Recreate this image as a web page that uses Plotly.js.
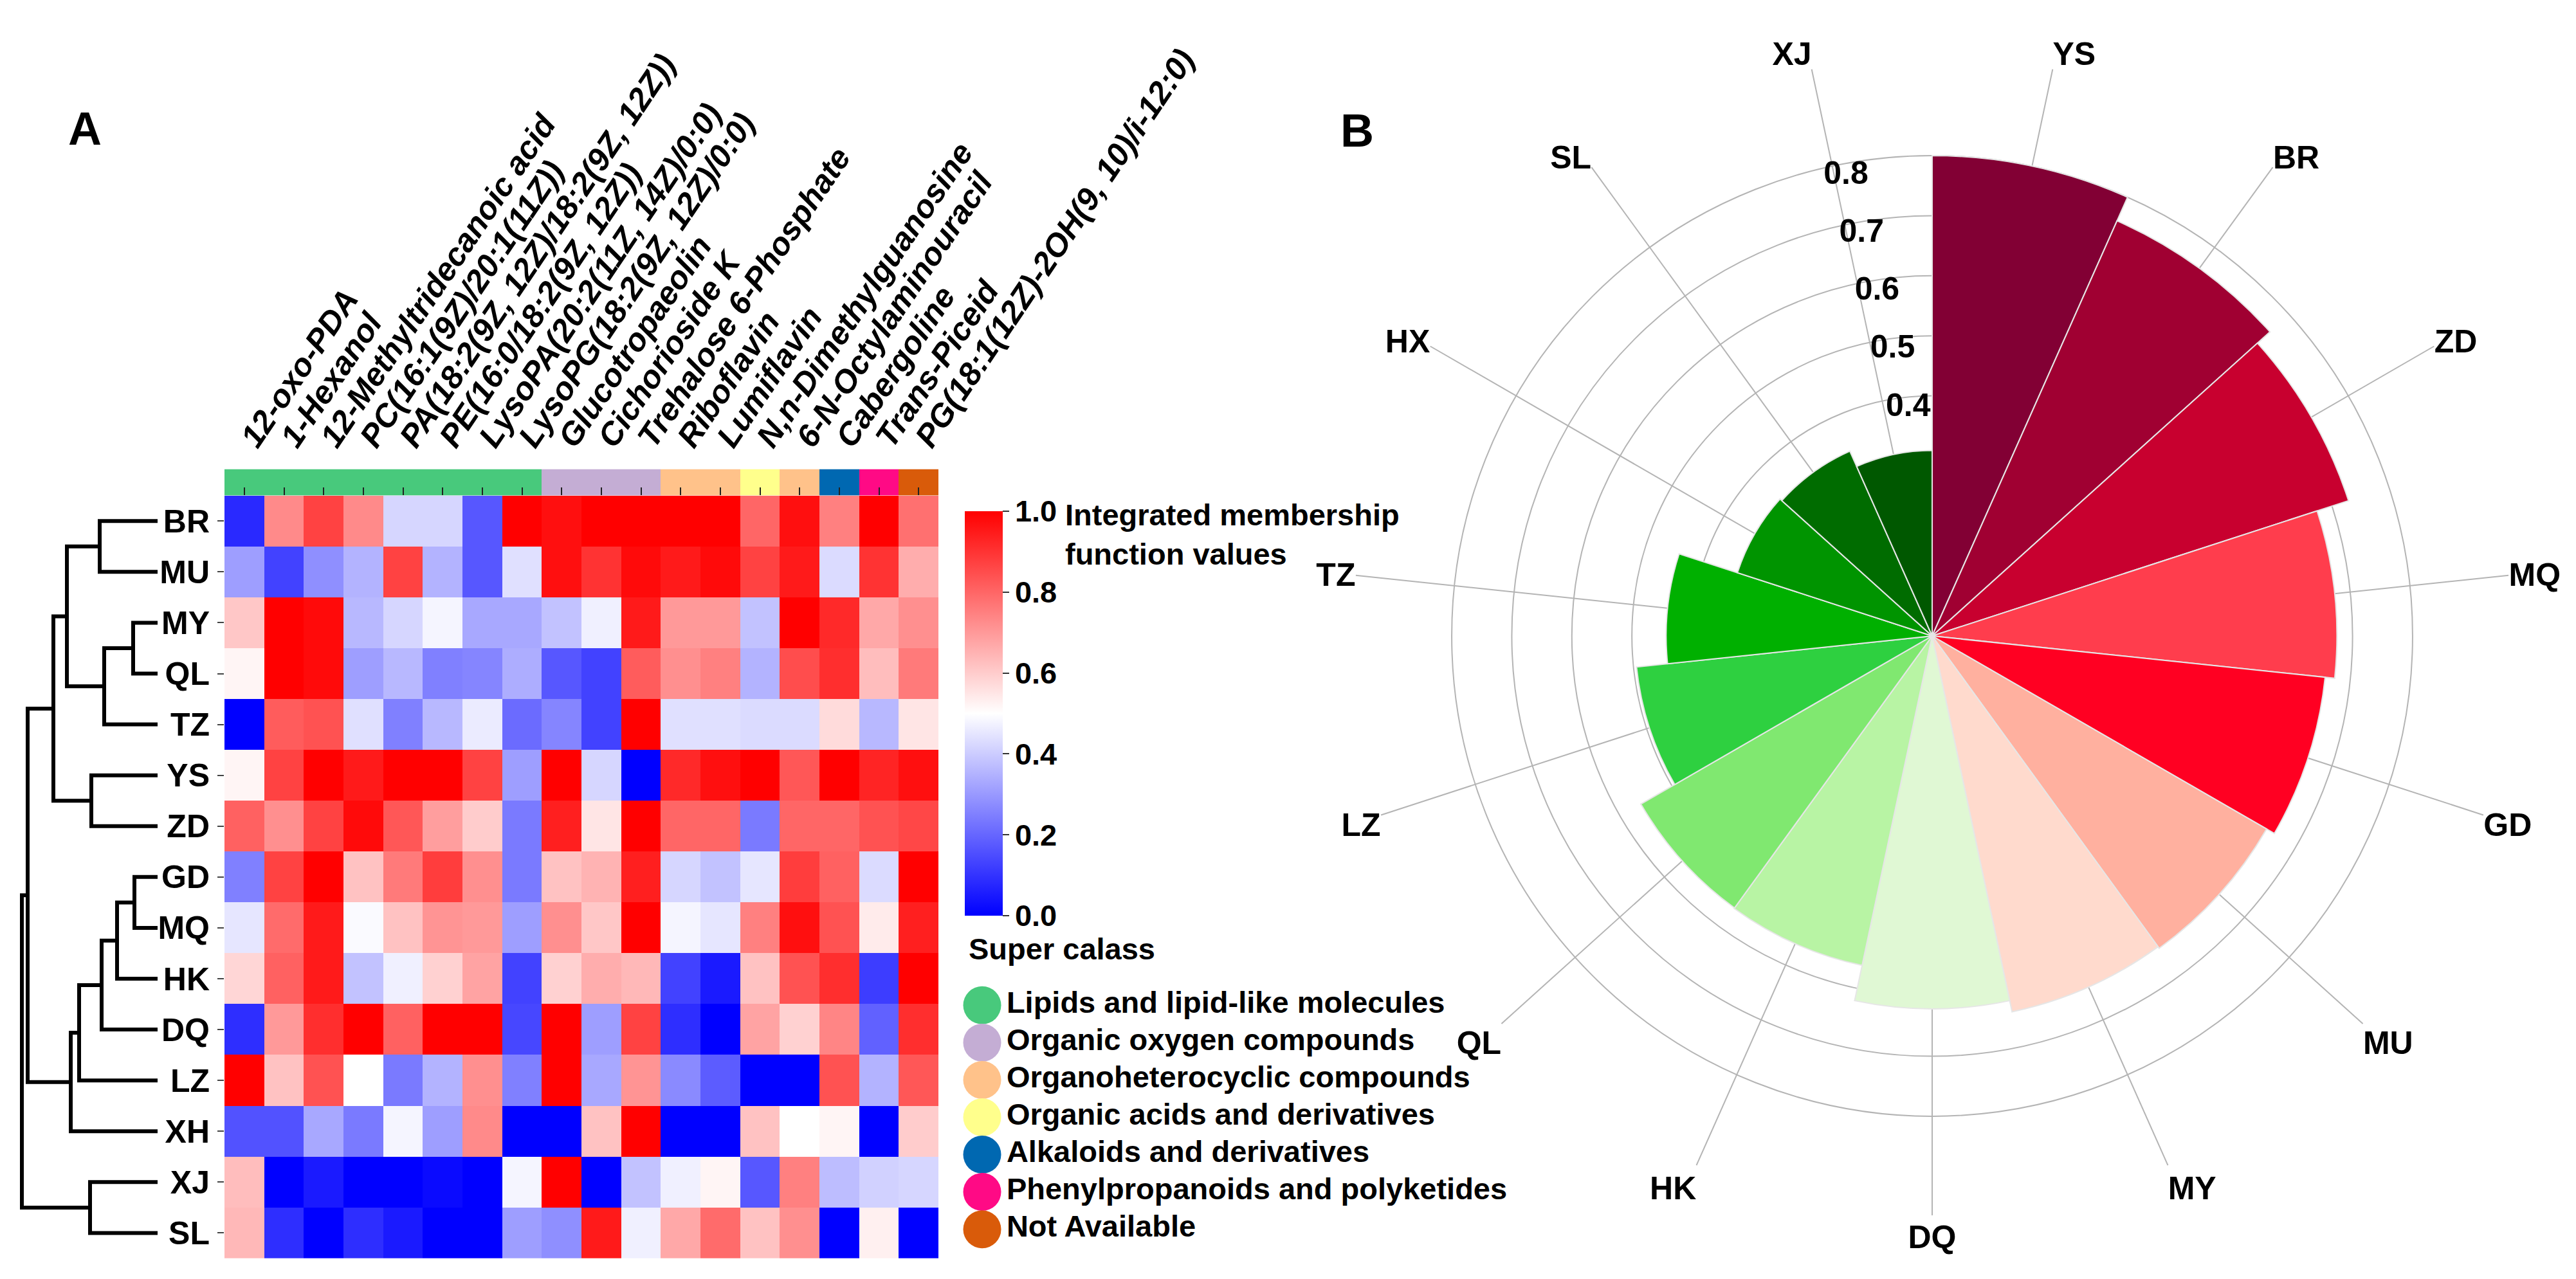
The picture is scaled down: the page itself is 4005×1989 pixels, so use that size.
<!DOCTYPE html>
<html>
<head>
<meta charset="utf-8">
<script src="https://cdn.plot.ly/plotly-3.0.1.min.js"></script>
<style>html,body{margin:0;padding:0;background:#fff;}#chart{width:4005px;height:1989px;}</style>
</head>
<body>
<div id="chart"></div>
<script>
// ---------------- DATA ----------------
const samples = ['BR','MU','MY','QL','TZ','YS','ZD','GD','MQ','HK','DQ','LZ','XH','XJ','SL'];
const compounds = ['12-oxo-PDA','1-Hexanol','12-Methyltridecanoic acid','PC(16:1(9Z)/20:1(11Z))',
  'PA(18:2(9Z, 12Z)/18:2(9Z, 12Z))','PE(16:0/18:2(9Z, 12Z))','LysoPA(20:2(11Z, 14Z)/0:0)',
  'LysoPG(18:2(9Z, 12Z)/0:0)','Glucotropaeolin','Cichorioside K','Trehalose 6-Phosphate',
  'Riboflavin','Lumiflavin','N,n-Dimethylguanosine','6-N-Octylaminouracil','Cabergoline',
  'Trans-Piceid','PG(18:1(12Z)-2OH(9, 10)/i-12:0)'];
// integrated membership function values (rows = samples, columns = compounds)
const rowBR = [0.08,0.73,0.87,0.73,0.42,0.42,0.17,1.00,0.97,1.00,1.00,1.00,1.00,0.80,0.97,0.75,1.00,0.78];
const rowMU = [0.31,0.13,0.28,0.35,0.87,0.35,0.17,0.44,0.97,0.90,0.98,0.95,0.98,0.87,0.95,0.43,0.90,0.66];
const rowMY = [0.61,1.00,0.98,0.36,0.42,0.48,0.33,0.33,0.38,0.47,0.95,0.70,0.70,0.38,1.00,0.92,0.67,0.72];
const rowQL = [0.52,1.00,0.98,0.31,0.36,0.25,0.26,0.34,0.17,0.13,0.82,0.72,0.75,0.35,0.85,0.91,0.63,0.76];
const rowTZ = [0.00,0.82,0.84,0.44,0.25,0.36,0.46,0.21,0.26,0.13,1.00,0.44,0.44,0.43,0.43,0.57,0.36,0.55];
const rowYS = [0.52,0.87,1.00,0.95,1.00,1.00,0.87,0.31,1.00,0.42,0.00,0.92,0.97,1.00,0.83,1.00,0.93,0.97];
const rowZD = [0.81,0.72,0.87,0.98,0.83,0.69,0.60,0.24,0.94,0.55,1.00,0.80,0.80,0.24,0.80,0.80,0.84,0.86];
const rowGD = [0.25,0.87,1.00,0.62,0.76,0.88,0.72,0.24,0.62,0.65,0.94,0.42,0.38,0.45,0.88,0.81,0.43,1.00];
const rowMQ = [0.45,0.79,0.95,0.49,0.62,0.71,0.70,0.31,0.72,0.61,1.00,0.48,0.45,0.75,0.97,0.84,0.54,0.94];
const rowHK = [0.58,0.81,0.95,0.38,0.47,0.59,0.68,0.13,0.59,0.66,0.64,0.13,0.05,0.62,0.84,0.91,0.12,1.00];
const rowDQ = [0.09,0.70,0.91,1.00,0.81,1.00,1.00,0.14,1.00,0.31,0.87,0.09,0.00,0.68,0.59,0.74,0.19,0.91];
const rowLZ = [1.00,0.62,0.84,0.50,0.24,0.35,0.72,0.25,1.00,0.33,0.71,0.27,0.18,0.00,0.00,0.84,0.35,0.83];
const rowXH = [0.16,0.16,0.33,0.24,0.48,0.31,0.73,0.00,0.00,0.62,1.00,0.00,0.00,0.62,0.50,0.52,0.00,0.60];
const rowXJ = [0.63,0.00,0.05,0.00,0.00,0.02,0.00,0.48,1.00,0.00,0.38,0.47,0.52,0.17,0.75,0.37,0.41,0.42];
const rowSL = [0.64,0.09,0.00,0.09,0.05,0.00,0.00,0.31,0.28,0.95,0.47,0.67,0.79,0.62,0.72,0.00,0.53,0.00];

// super class of each compound
const superClasses = ['Lipids and lipid-like molecules','Organic oxygen compounds','Organoheterocyclic compounds',
  'Organic acids and derivatives','Alkaloids and derivatives','Phenylpropanoids and polyketides','Not Available'];
const superClassColors = ['#48C97C','#C4ADD4','#FFC28A','#FFFF8C','#0068B1','#FF0A85','#D95B0A'];
const compoundClass = [0,0,0,0,0,0,0,0,1,1,1,2,2,3,2,4,5,6];

// hierarchical clustering of samples (leaf indices 0..14, new nodes 15..)
const linkLeft   = [0, 2, 16, 15, 5, 18, 7, 21, 22, 23, 24, 20, 13, 26];
const linkRight  = [1, 3, 4, 17, 6, 19, 8, 9, 10, 11, 12, 25, 14, 27];
const linkHeight = [9.0, 3.8, 8.3, 14.1, 10.3, 16.2, 3.6, 6.3, 8.7, 12.2, 13.5, 20.2, 10.5, 21.1];

// panel B
const polarSamples = ['YS','BR','ZD','MQ','GD','MU','MY','DQ','HK','QL','LZ','TZ','HX','SL','XJ'];
const polarValues  = [0.800,0.757,0.729,0.674,0.658,0.643,0.640,0.621,0.561,0.560,0.495,0.443,0.341,0.337,0.309];
const polarColors  = ['#820034','#A00032','#C8002F','#FF3D4D','#FF0022','#FFB09F','#FFDACD',
                      '#E0F8D4','#B8F4A4','#80E870','#2ED040','#00B000','#009400','#006C00','#005800'];
const radialTicks = [0.4,0.5,0.6,0.7,0.8];
const colorTicks = [0,0.2,0.4,0.6,0.8,1.0];

// ---------------- BUILD ----------------
const zMain = [rowBR,rowMU,rowMY,rowQL,rowTZ,rowYS,rowZD,rowGD,rowMQ,rowHK,rowDQ,rowLZ,rowXH,rowXJ,rowSL];

const FONT = 'Liberation Sans, Arial, Helvetica, sans-serif';

// discrete colorscale for the super-class strip
const nC = superClassColors.length;
const classScale = [];
superClassColors.forEach((c,k)=>{ classScale.push([k/nC,c]); classScale.push([(k+1)/nC,c]); });

// dendrogram path
const pos = {}, hgt = {};
samples.forEach((s,i)=>{ pos[i]=i; hgt[i]=0; });
const dx = [], dy = [];
linkLeft.forEach((a,k)=>{
  const b = linkRight[k], h = linkHeight[k], id = samples.length + k;
  pos[id] = (pos[a]+pos[b])/2; hgt[id] = h;
  dx.push(hgt[a], h, h, hgt[b], null);
  dy.push(pos[a], pos[a], pos[b], pos[b], null);
});

const traces = [
  // super-class strip (subplot xy)
  { type:'heatmap', x:compounds, y:['class'], z:[compoundClass], xaxis:'x', yaxis:'y',
    colorscale:classScale, zmin:-0.5, zmax:nC-0.5, showscale:false, hoverinfo:'skip' },
  // main heatmap (subplot x2y2)
  { type:'heatmap', x:compounds, y:samples, z:zMain, xaxis:'x2', yaxis:'y2',
    zmin:0, zmax:1,
    colorscale:[[0,'#0000FF'],[0.5,'#FFFFFF'],[1,'#FF0000']],
    colorbar:{ x:1500/4005, xanchor:'left', xpad:0, ypad:0, y:1-795/1989, yanchor:'top',
      lenmode:'pixels', len:629, thickness:59, outlinewidth:0,
      tickvals:colorTicks, tickformat:'.1f', ticks:'outside', ticklen:10, tickwidth:2, tickcolor:'#333',
      tickfont:{family:FONT, size:47, weight:'bold', color:'#000'} } },
  // dendrogram
  { type:'scatter', mode:'lines', x:dx, y:dy, xaxis:'x3', yaxis:'y3',
    line:{color:'#000', width:6}, hoverinfo:'skip', showlegend:false },
  // super class legend
  { type:'scatter', mode:'markers+text', x:superClasses.map(()=>0), y:superClasses,
    xaxis:'x4', yaxis:'y4', text:superClasses, textposition:'middle right',
    textfont:{family:FONT, size:47, weight:'bold', color:'#000'},
    marker:{size:59, color:superClassColors, line:{width:0}}, cliponaxis:false,
    hoverinfo:'skip', showlegend:false },
  // panel B
  { type:'barpolar', r:polarValues, theta:polarSamples,
    marker:{color:polarColors, line:{color:'#E6E6E6', width:2}},
    hoverinfo:'skip', showlegend:false }
];

const hmLeft = 349/4005, hmRight = 1459/4005;
const layout = {
  width:4005, height:1989,
  margin:{l:0,r:0,t:0,b:0,pad:0},
  paper_bgcolor:'#fff', plot_bgcolor:'rgba(0,0,0,0)',
  showlegend:false,
  font:{family:FONT, color:'#000'},
  // strip axes
  xaxis:{ domain:[hmLeft,hmRight], anchor:'y', side:'top', type:'category',
    categoryorder:'array', categoryarray:compounds,
    tickangle:-56, ticks:'', showgrid:false, zeroline:false, showline:false,
    ticklabelstandoff:8,
    tickfont:{family:FONT, size:50, weight:'bold', style:'italic', color:'#000'} },
  yaxis:{ domain:[1-770.7/1989, 1-729.5/1989], anchor:'x', showticklabels:false, ticks:'',
    showgrid:false, zeroline:false, showline:false, fixedrange:true },
  // main heatmap axes
  xaxis2:{ domain:[hmLeft,hmRight], anchor:'y2', side:'top', type:'category',
    categoryorder:'array', categoryarray:compounds,
    showticklabels:false, ticks:'outside', ticklen:12, tickwidth:2, tickcolor:'#222',
    showgrid:false, zeroline:false, showline:false },
  yaxis2:{ domain:[1-1957/1989, 1-770.7/1989], anchor:'x2', type:'category',
    categoryorder:'array', categoryarray:samples, autorange:'reversed',
    ticks:'outside', ticklen:10, tickwidth:2, tickcolor:'#444', ticklabelstandoff:2,
    showgrid:false, zeroline:false, showline:false,
    tickfont:{family:FONT, size:50, weight:'bold', color:'#000'} },
  // dendrogram axes
  xaxis3:{ domain:[0, 245/4005], anchor:'y3', range:[24.5, 0], visible:false },
  yaxis3:{ domain:[1-1957/1989, 1-770.7/1989], anchor:'x3', range:[samples.length-0.5, -0.5], visible:false },
  // legend axes
  xaxis4:{ domain:[1497/4005, 2397/4005], anchor:'y4', range:[-30, 870], visible:false },
  yaxis4:{ domain:[1-1972/1989, 1-1503/1989], anchor:'x4', type:'category',
    categoryorder:'array', categoryarray:superClasses, autorange:'reversed', visible:false },
  polar:{
    domain:{x:[2103/4005, 3905/4005], y:[1-1891/1989, 1-87/1989]},
    bgcolor:'rgba(0,0,0,0)',
    bargap:0,
    angularaxis:{ direction:'clockwise', rotation:78, type:'category',
      categoryorder:'array', categoryarray:polarSamples,
      showline:false, ticks:'', gridcolor:'#B4B4B4', gridwidth:2,
      tickfont:{family:FONT, size:50, weight:'bold', color:'#000'} },
    radialaxis:{ range:[0,0.965], tickvals:radialTicks, tickformat:'.1f', angle:105, tickangle:105,
      side:'clockwise', showline:false, ticks:'', gridcolor:'#B4B4B4', gridwidth:2,
      tickfont:{family:FONT, size:50, weight:'bold', color:'#000'} }
  },
  annotations:[
    { text:'A', x:132/4005, y:1-200/1989, xref:'paper', yref:'paper', showarrow:false,
      xanchor:'center', yanchor:'middle', font:{family:FONT, size:72, weight:'bold', color:'#000'} },
    { text:'B', x:2110/4005, y:1-203/1989, xref:'paper', yref:'paper', showarrow:false,
      xanchor:'center', yanchor:'middle', font:{family:FONT, size:72, weight:'bold', color:'#000'} },
    { text:'Integrated membership<br>function values', x:1654/4005, y:1-772/1989,
      xref:'paper', yref:'paper', showarrow:false, xanchor:'left', yanchor:'top', align:'left',
      font:{family:FONT, size:47, weight:'bold', color:'#000'} },
    { text:'Super calass', x:1504/4005, y:1-1475/1989, xref:'paper', yref:'paper', showarrow:false,
      xanchor:'left', yanchor:'middle', font:{family:FONT, size:47, weight:'bold', color:'#000'} }
  ]
};

Plotly.newPlot('chart', traces, layout, {displayModeBar:false, staticPlot:true});
</script>
</body>
</html>
